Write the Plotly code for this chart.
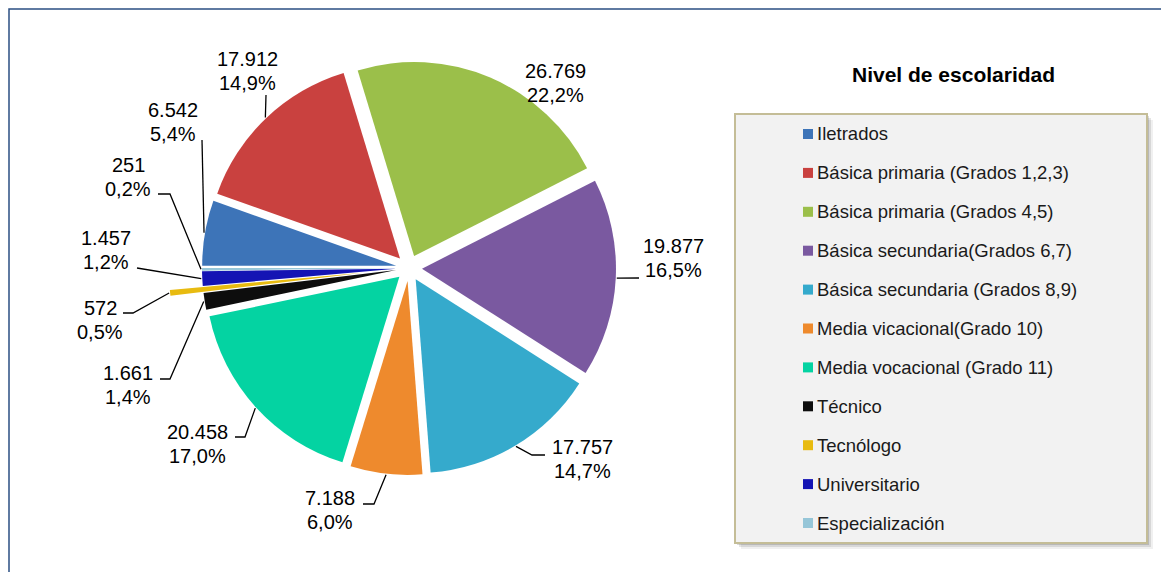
import math
import plotly.graph_objects as go

# ---------------- data ----------------
categories = [
    "Iletrados",
    "Básica primaria (Grados 1,2,3)",
    "Básica primaria (Grados 4,5)",
    "Básica secundaria(Grados 6,7)",
    "Básica secundaria (Grados 8,9)",
    "Media vicacional(Grado 10)",
    "Media vocacional (Grado 11)",
    "Técnico",
    "Tecnólogo",
    "Universitario",
    "Especialización",
]
values = [6542, 17912, 26769, 19877, 17757, 7188, 20458, 1661, 572, 1457, 251]
legend_title = "Nivel de escolaridad"

# ---------------- style ----------------
colors = ["#3d74b8", "#c9413f", "#9bbf4a", "#7a59a0", "#35aacc", "#ee8a2d",
          "#04d3a2", "#0d0d0d", "#e8bb10", "#1414b4", "#96c6d8"]
pulls = [0.067, 0.067, 0.067, 0.067, 0.067, 0.067, 0.067, 0.067, 0.238, 0.067, 0.067]

W, H = 1169, 572                   # window size
OFF = 8                            # default page body margin
FW, FH = W - OFF, H - OFF          # figure size so that it fits the window
CX, CY, R = 409, 268, 194          # pie centre / radius in window pixels
FONT = "Liberation Sans, Arial, sans-serif"

# label centre positions (window pixels) and leader-line bend points
label_xy = [(173, 122), (247, 71), (555, 83), (673, 258), (582, 459), (330, 510),
            (197, 444), (128, 385), (100, 320), (106, 250), (128, 177)]
leader_pts = [[(202, 140)], [(266, 95)], [], [(639, 278)], [(545, 455), (532, 455)],
              [(363, 504), (374, 504)], [(235, 437), (245, 437)], [(160, 379), (170, 379)],
              [(123, 313), (133, 313)], [(137, 268)], [(158, 194), (170, 194)]]


def px(x):
    return (x - OFF) / FW


def py(y):
    return 1 - (y - OFF) / FH


maxpull = max(pulls)
half = R * (1 + maxpull)
dom_x = [px(CX - half), px(CX + half)]
dom_y = [py(CY + half), py(CY - half)]

fig = go.Figure(go.Pie(
    labels=categories,
    values=values,
    sort=False,
    direction="clockwise",
    rotation=270,
    pull=pulls,
    marker=dict(colors=colors, line=dict(width=0)),
    textinfo="none",
    hoverinfo="label+value+percent",
    showlegend=False,
    domain=dict(x=dom_x, y=dom_y),
))

total = sum(values)
annotations = []
shapes = []

# data labels + leader lines
cum = 0
for i, v in enumerate(values):
    mid = (cum + v / 2) / total * 360.0
    cum += v
    ang = math.radians(270 + mid)            # plotly: 0 = 12 o'clock, clockwise
    rr = R * (1 + pulls[i]) + 1
    ex = CX + rr * math.sin(ang)
    ey = CY - rr * math.cos(ang)
    vtxt = f"{v:,}".replace(",", ".")
    ptxt = f"{v / total * 100:.1f}".replace(".", ",") + "%"
    lx, ly = label_xy[i]
    for txt, dy in ((vtxt, -12), (ptxt, 12)):
        annotations.append(dict(
            x=px(lx), y=py(ly + dy), xref="paper", yref="paper", text=txt,
            showarrow=False, xanchor="center", yanchor="middle",
            font=dict(family=FONT, size=20, color="#000000")))
    if leader_pts[i]:
        pts = leader_pts[i] + [(ex, ey)]
        path = "M " + " L ".join(f"{px(a):.5f},{py(b):.5f}" for a, b in pts)
        shapes.append(dict(type="path", path=path, xref="paper", yref="paper",
                           line=dict(color="#000000", width=1.3)))

# legend box (drawn manually)
LX0, LY0, LX1, LY1 = 735, 114, 1147, 543
for off, alpha in ((6, 0.06), (4, 0.10), (2, 0.14)):
    shapes.append(dict(type="rect", xref="paper", yref="paper",
                       x0=px(LX0 + off), x1=px(LX1 + off), y0=py(LY1 + off), y1=py(LY0 + off),
                       line=dict(width=0), fillcolor=f"rgba(0,0,0,{alpha})", layer="below"))
shapes.append(dict(type="rect", xref="paper", yref="paper",
                   x0=px(LX0), x1=px(LX1), y0=py(LY1), y1=py(LY0),
                   line=dict(color="#c4bd97", width=2), fillcolor="#f2f2f2", layer="below"))

ROW0, ROWSTEP = 134, 38.9
for i, name in enumerate(categories):
    yc = ROW0 + i * ROWSTEP
    shapes.append(dict(type="rect", xref="paper", yref="paper",
                       x0=px(803), x1=px(813), y0=py(yc + 5), y1=py(yc - 5),
                       line=dict(width=0), fillcolor=colors[i]))
    annotations.append(dict(
        x=px(815), y=py(yc), xref="paper", yref="paper", text=name,
        showarrow=False, xanchor="left", yanchor="middle",
        font=dict(family=FONT, size=18.5, color="#1a1a1a")))

annotations.append(dict(
    x=px(953), y=py(74), xref="paper", yref="paper", text=f"<b>{legend_title}</b>",
    showarrow=False, xanchor="center", yanchor="middle",
    font=dict(family=FONT, size=21, color="#000000")))

# outer chart frame
shapes.append(dict(type="rect", xref="paper", yref="paper",
                   x0=px(9), x1=px(W + 20), y0=py(H + 20), y1=py(9),
                   line=dict(color="#2b4f82", width=1.5), fillcolor="rgba(0,0,0,0)"))

fig.update_layout(
    width=FW, height=FH,
    margin=dict(l=0, r=0, t=0, b=0),
    paper_bgcolor="#ffffff",
    plot_bgcolor="#ffffff",
    annotations=annotations,
    shapes=shapes,
    font=dict(family=FONT),
)

fig.write_html("out.html", config={"displayModeBar": False})
